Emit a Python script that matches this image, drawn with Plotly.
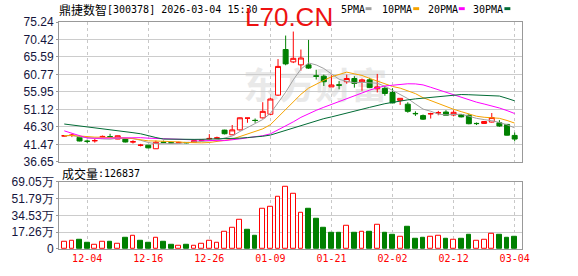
import plotly.graph_objects as go

# ---------------- data ----------------
dates = ["12-01", "12-02", "12-03", "12-04", "12-05", "12-08", "12-09", "12-10", "12-11", "12-12",
         "12-15", "12-16", "12-17", "12-18", "12-19", "12-22", "12-23", "12-24", "12-25", "12-26",
         "12-29", "12-30", "12-31", "01-05", "01-06", "01-07", "01-08", "01-09", "01-12", "01-13",
         "01-14", "01-15", "01-16", "01-19", "01-20", "01-21", "01-22", "01-23", "01-26", "01-27",
         "01-28", "01-29", "01-30", "02-02", "02-03", "02-04", "02-05", "02-06", "02-09", "02-10",
         "02-11", "02-12", "02-13", "02-24", "02-25", "02-26", "02-27", "03-02", "03-03", "03-04"]

open_ = [43.75, 43.95, 43.39, 42.35, 42.45, 43.55, 43.60, 42.93, 42.93, 42.10,
         41.20, 41.23, 40.25, 42.10, 41.90, 41.90, 42.00, 42.04, 42.55, 43.00,
         43.15, 45.40, 44.10, 45.46, 48.70, 48.10, 48.78, 49.77, 55.05, 67.64,
         64.22, 63.41, 63.41, 60.40, 60.28, 57.32, 57.90, 58.75, 59.64, 58.75,
         59.28, 56.80, 56.94, 55.78, 53.60, 52.55, 50.00, 49.40, 49.88, 50.15,
         50.39, 49.58, 49.67, 49.50, 47.25, 47.24, 47.62, 47.43, 46.97, 43.93]
high = [44.05, 44.38, 43.60, 42.77, 42.95, 43.90, 44.38, 43.90, 43.00, 42.60,
        41.60, 41.30, 42.50, 42.50, 42.10, 42.20, 42.10, 42.55, 42.90, 44.30,
        43.60, 45.50, 46.80, 48.90, 48.75, 48.60, 53.10, 54.40, 65.00, 71.50,
        72.60, 67.64, 70.30, 62.06, 60.71, 60.55, 58.93, 60.71, 60.28, 59.64,
        59.82, 60.90, 57.59, 56.94, 54.20, 53.09, 50.58, 49.70, 50.20, 50.70,
        50.90, 50.90, 49.80, 49.90, 47.50, 47.90, 50.12, 48.16, 47.10, 44.73]
low = [43.60, 43.47, 42.30, 41.85, 41.95, 43.40, 43.30, 42.90, 42.00, 41.70,
       40.90, 40.40, 40.20, 41.80, 41.60, 41.80, 41.75, 42.00, 42.40, 42.80,
       42.90, 44.20, 44.00, 45.30, 47.43, 47.40, 48.60, 49.50, 54.80, 63.30,
       63.90, 61.80, 62.30, 59.37, 57.59, 57.30, 56.67, 58.20, 57.13, 56.24,
       57.00, 55.80, 54.89, 52.80, 52.36, 50.20, 49.31, 48.20, 48.59, 49.50,
       49.40, 49.20, 48.90, 47.00, 46.80, 47.10, 47.50, 46.30, 43.90, 42.31]
close = [43.85, 44.00, 42.39, 42.30, 42.50, 43.65, 43.55, 43.84, 42.12, 42.20,
         41.25, 40.50, 42.04, 42.00, 41.85, 42.00, 41.90, 42.49, 42.60, 43.10,
         43.25, 44.40, 45.46, 48.80, 48.72, 48.05, 50.58, 53.98, 62.98, 63.68,
         65.21, 65.30, 62.52, 60.25, 58.75, 57.86, 57.80, 59.64, 58.29, 59.28,
         57.13, 57.32, 55.51, 52.90, 54.17, 50.58, 49.93, 48.43, 49.93, 50.20,
         49.50, 50.31, 49.05, 47.16, 47.20, 47.78, 48.86, 46.54, 44.00, 42.93]

# closes of the 29 sessions before 12-01 (estimated from where the MA lines start)
prev_closes = [51.5, 52.3, 51.0, 50.2, 50.8, 51.6, 50.4, 49.9, 50.6, 50.3,
               57.5, 56.2, 54.5, 44.0, 42.8, 42.0, 42.3, 41.9, 42.2, 42.0,
               43.2, 43.9, 44.3, 43.6, 44.1, 43.8, 44.2, 43.5, 43.95]

# volume in 万
volume = [7.7, 8.7, 9.0, 6.0, 4.7, 7.7, 7.0, 5.7, 12.0, 13.7,
          8.0, 6.0, 11.7, 7.0, 4.0, 3.7, 4.0, 3.7, 5.7, 8.7,
          6.7, 17.7, 21.7, 29.7, 20.0, 14.0, 41.0, 43.7, 53.7, 63.94,
          56.7, 36.7, 41.0, 31.0, 22.0, 17.0, 17.0, 23.7, 17.0, 17.7,
          18.0, 24.7, 17.0, 15.0, 12.7, 23.0, 11.0, 12.0, 12.7, 13.7,
          10.0, 9.7, 10.0, 15.0, 8.7, 9.7, 15.7, 15.0, 12.0, 12.6837]
# 1 = up day (red hollow), 0 = down day (green)
vol_up = [1, 1, 0, 0, 1, 1, 0, 1, 0, 1,
          0, 0, 1, 0, 0, 1, 0, 1, 1, 1,
          1, 1, 1, 1, 0, 0, 1, 1, 1, 1,
          1, 1, 0, 0, 0, 0, 0, 1, 0, 1,
          0, 1, 0, 0, 1, 0, 0, 0, 1, 1,
          0, 1, 0, 0, 1, 1, 1, 0, 0, 0]

price_ticks = [36.65, 41.47, 46.30, 51.12, 55.95, 60.77, 65.59, 70.42, 75.24]
vol_ticks = [0, 17.26, 34.53, 51.79, 69.05]
vol_tick_text = ["0", "17.26万", "34.53万", "51.79万", "69.05万"]
date_ticks = ["12-04", "12-16", "12-26", "01-09", "01-21", "02-02", "02-12", "03-04"]

ma_periods = [5, 10, 20, 30]
ma_names = ["5PMA", "10PMA", "20PMA", "30PMA"]
ma_colors = ["#a0a0a0", "#f5a300", "#ff00ff", "#006b35"]

stock_name = "鼎捷数智"
stock_info = "[300378] 2026-03-04 15:30"
vol_name = "成交量"
last_volume = "126837"

# ---------------- geometry helpers ----------------
W_FIG, H_FIG = 578, 276
ML, MR, MT, MB = 55, 56, 22, 21
PW, PH = W_FIG - ML - MR, H_FIG - MT - MB


def px(x):
    return (x - ML) / PW


def py(y):
    return (H_FIG - MB - y) / PH


x = list(range(len(dates)))
tickvals = [dates.index(d) for d in date_ticks]

all_close = prev_closes + close
off = len(prev_closes)
mas = []
for n in ma_periods:
    mas.append([sum(all_close[off + i - n + 1: off + i + 1]) / n for i in range(len(close))])

RED = "#ff0000"
GREEN = "#008000"

fig = go.Figure()

for m, c, nm in zip(mas, ma_colors, ma_names):
    fig.add_trace(go.Scatter(x=x, y=m, mode="lines", line=dict(color=c, width=1),
                             name=nm, xaxis="x", yaxis="y", hoverinfo="skip"))

fig.add_trace(go.Candlestick(
    x=x, open=open_, high=high, low=low, close=close,
    increasing=dict(line=dict(color=RED, width=1), fillcolor="#ffffff"),
    decreasing=dict(line=dict(color=GREEN, width=1), fillcolor=GREEN),
    whiskerwidth=0, xaxis="x", yaxis="y", name="K"))

fig.add_trace(go.Bar(
    x=x, y=volume, width=0.62,
    marker=dict(color=["#ffffff" if u else GREEN for u in vol_up],
                line=dict(color=[RED if u else GREEN for u in vol_up], width=1)),
    xaxis="x2", yaxis="y2", name="VOL"))

axis_common = dict(showline=True, mirror=True, linecolor="#999999", linewidth=1, zeroline=False)
tick_font = dict(family="Liberation Sans, Arial, sans-serif", size=12, color="#14143c")
mono = "DejaVu Sans Mono, Liberation Mono, monospace"

fig.update_layout(
    width=W_FIG, height=H_FIG, autosize=False,
    margin=dict(l=ML, r=MR, t=MT, b=MB, pad=0),
    paper_bgcolor="#ffffff", plot_bgcolor="#ffffff",
    showlegend=False, boxgap=0.35, boxgroupgap=0, bargap=0,
    xaxis=dict(domain=[0, 1], anchor="y", range=[-0.69, 59.96], tickvals=tickvals,
               showticklabels=False, ticks="", showgrid=True, gridcolor="#c8c8c8",
               griddash="3px,3px", gridwidth=1, rangeslider=dict(visible=False), **axis_common),
    yaxis=dict(domain=[py(165.5), 1], anchor="x", range=[price_ticks[0], price_ticks[-1]],
               tickvals=price_ticks, ticktext=["%.2f" % v for v in price_ticks],
               ticks="outside", ticklen=2, tickcolor="#999999", tickfont=tick_font,
               showgrid=True, gridcolor="#cccccc", gridwidth=1, **axis_common),
    xaxis2=dict(domain=[0, 1], anchor="y2", matches="x", range=[-0.69, 59.96], tickvals=tickvals,
                ticktext=date_ticks, ticks="", showgrid=True, gridcolor="#c8c8c8",
                griddash="3px,3px", gridwidth=1,
                tickfont=dict(family=mono, size=10, color=RED), **axis_common),
    yaxis2=dict(domain=[0, py(186)], anchor="x2", range=[vol_ticks[0], vol_ticks[-1]],
                tickvals=vol_ticks, ticktext=vol_tick_text, ticks="outside", ticklen=2,
                tickcolor="#999999", tickfont=tick_font,
                showgrid=True, gridcolor="#cccccc", gridwidth=1, **axis_common),
)

ann = []


def text(s, x0, yc, size, color="#000000", family=mono, anchor="left", weight="normal"):
    ann.append(dict(text=s, x=px(x0), y=py(yc), xref="paper", yref="paper",
                    xanchor=anchor, yanchor="middle", showarrow=False,
                    font=dict(family=family, size=size, color=color, weight=weight),
                    borderpad=0))


cjk = "Noto Sans CJK SC, sans-serif"
text(stock_name, 54, 9, 12, family=cjk)
text(stock_info, 102, 9, 10)
text("L70.CN", 242, 17, 26, color="#ee1111", family="Liberation Sans, Arial, sans-serif")
text(vol_name, 57, 177.5, 12, family=cjk)
text(":" + last_volume, 93, 177.5, 10)

leg_x = [338, 380, 426, 472]
shapes = []
for lx, nm, c in zip(leg_x, ma_names, ma_colors):
    text(nm, lx, 9, 10)
    sx = lx + 6.05 * len(nm) + 2
    shapes.append(dict(type="rect", xref="paper", yref="paper",
                       x0=px(sx), x1=px(sx + 6), y0=py(9.8), y1=py(6.8),
                       fillcolor=c, line=dict(width=0)))

# watermark behind the chart
shapes.append(dict(type="rect", xref="paper", yref="paper", layer="below",
                   x0=px(235), x1=px(392), y0=py(110), y1=py(72),
                   line=dict(width=0), fillcolor="rgba(0,0,0,0)",
                   label=dict(text="东方财富", textposition="middle center",
                              font=dict(family=cjk, size=36, color="#e9e9e9", weight="bold"))))

fig.update_layout(annotations=ann, shapes=shapes)

fig.write_html("out.html")
